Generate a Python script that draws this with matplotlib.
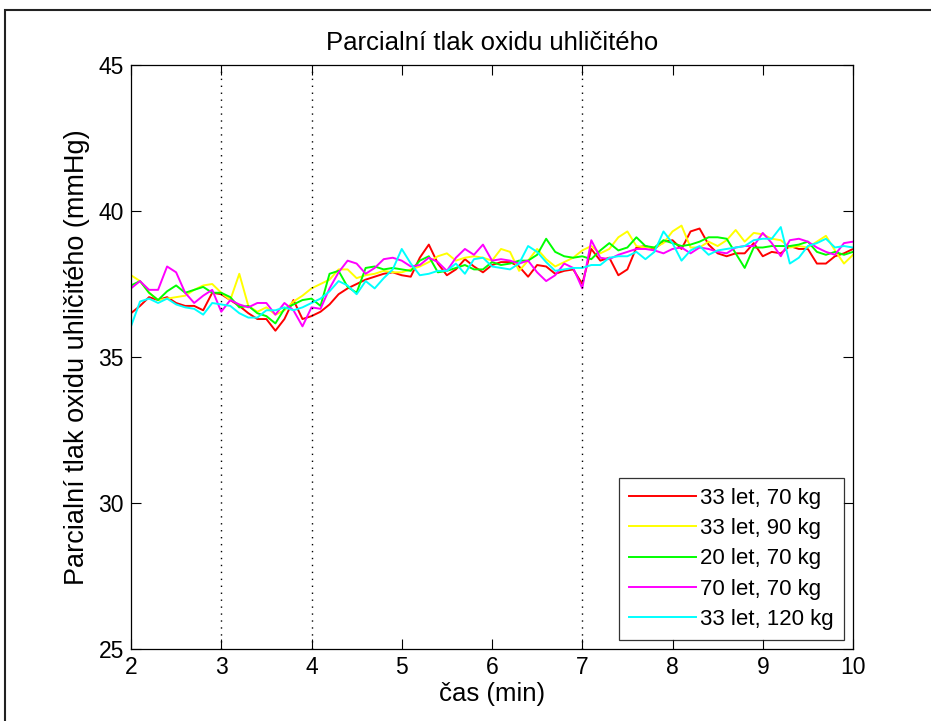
import numpy as np
import matplotlib
matplotlib.use("Agg")
import matplotlib.pyplot as plt
from matplotlib.patches import Rectangle

plt.rcParams['font.family'] = ['Liberation Sans', 'DejaVu Sans']

time = np.linspace(2, 10, 81)

red = [36.5, 36.75, 37.05, 36.95, 37.05, 36.85, 36.75, 36.75, 36.6, 37.2,
       37.15, 36.95, 36.75, 36.5, 36.3, 36.3, 35.9, 36.3, 36.95, 36.3,
       36.4, 36.55, 36.8, 37.15, 37.35, 37.5, 37.65, 37.75, 37.85, 37.9,
       37.8, 37.75, 38.4, 38.85, 38.2, 37.8, 38.0, 38.35, 38.1, 37.9,
       38.15, 38.25, 38.25, 38.1, 37.75, 38.15, 38.1, 37.85, 37.95, 38.0,
       37.5, 38.7, 38.3, 38.4, 37.8, 38.0, 38.75, 38.8, 38.7, 38.95,
       39.0, 38.7, 39.3, 39.4, 38.85, 38.55, 38.45, 38.55, 38.55, 38.9,
       38.45, 38.6, 38.55, 38.8, 38.7, 38.7, 38.2, 38.2, 38.45, 38.55,
       38.7]

yellow = [37.8, 37.6, 37.2, 36.95, 37.0, 37.05, 37.1, 37.3, 37.45, 37.5,
          37.2, 36.95, 37.85, 36.75, 36.55, 36.7, 36.45, 36.6, 36.9, 37.1,
          37.35, 37.5, 37.65, 38.0, 38.0, 37.7, 37.8, 37.85, 37.95, 37.9,
          37.9, 38.0, 38.1, 38.25, 38.45, 38.55, 38.3, 38.4, 38.45, 38.4,
          38.3, 38.7, 38.6, 37.95, 38.3, 38.7, 38.35, 38.1, 38.25, 38.4,
          38.65, 38.8, 38.55, 38.7, 39.1, 39.3, 38.8, 38.75, 38.75, 38.9,
          39.3, 39.5, 38.75, 38.75, 38.95, 38.8, 39.0, 39.35, 38.95, 39.25,
          39.2, 39.05, 39.0, 38.75, 38.8, 38.75, 38.95, 39.15, 38.65, 38.2,
          38.5]

green = [37.45, 37.6, 37.2, 36.95, 37.25, 37.45, 37.2, 37.3, 37.4, 37.2,
         37.2, 37.05, 36.7, 36.75, 36.5, 36.4, 36.15, 36.65, 36.8, 36.95,
         37.0, 36.75, 37.85, 37.95, 37.4, 37.2, 38.05, 38.1, 38.0, 38.05,
         38.0, 37.95, 38.3, 38.45, 37.9, 37.95, 38.05, 38.15, 38.0, 38.0,
         38.25, 38.15, 38.2, 38.3, 38.3, 38.5, 39.05, 38.6, 38.45, 38.4,
         38.45, 38.35, 38.65, 38.9, 38.65, 38.75, 39.1, 38.8, 38.75, 39.0,
         38.9, 38.8, 38.85, 38.95, 39.1, 39.1, 39.05, 38.55, 38.05, 38.75,
         38.75, 38.8, 38.8, 38.8, 38.85, 38.95, 38.6, 38.5, 38.6, 38.5,
         38.6]

magenta = [37.35, 37.6, 37.3, 37.3, 38.1, 37.9, 37.2, 36.85, 37.1, 37.3,
           36.55, 36.95, 36.8, 36.7, 36.85, 36.85, 36.45, 36.85, 36.6, 36.05,
           36.7, 36.65, 37.35, 37.9, 38.3, 38.2, 37.85, 38.05, 38.35, 38.4,
           38.3, 38.1, 38.15, 38.4, 38.25, 37.95, 38.4, 38.7, 38.5, 38.85,
           38.3, 38.35, 38.3, 38.2, 38.3, 37.9, 37.6, 37.8, 38.2, 38.05,
           37.35, 39.0, 38.4, 38.35, 38.5, 38.6, 38.7, 38.7, 38.65, 38.55,
           38.7, 38.75, 38.55, 38.75, 38.7, 38.6, 38.55, 38.75, 38.8, 38.8,
           39.25, 38.9, 38.45, 39.0, 39.05, 38.95, 38.75, 38.6, 38.5, 38.9,
           38.95]

cyan = [36.05, 36.9, 37.0, 36.85, 37.0, 36.8, 36.7, 36.65, 36.45, 36.85,
        36.8, 36.75, 36.5, 36.35, 36.35, 36.6, 36.6, 36.7, 36.6, 36.7,
        36.85, 37.0, 37.25, 37.6, 37.45, 37.15, 37.6, 37.35, 37.7, 38.0,
        38.7, 38.2, 37.8, 37.85, 37.95, 37.95, 38.2, 37.85, 38.35, 38.4,
        38.1, 38.05, 38.0, 38.2, 38.8, 38.6, 38.25, 37.95, 38.0, 38.05,
        38.05, 38.15, 38.15, 38.4, 38.45, 38.45, 38.6, 38.35, 38.6, 39.3,
        38.9, 38.3, 38.65, 38.8, 38.5, 38.65, 38.7, 38.75, 38.8, 39.0,
        39.05, 39.05, 39.45, 38.2, 38.4, 38.8, 38.9, 39.05, 38.75, 38.8,
        38.75]

labels = ['33 let, 70 kg', '33 let, 90 kg', '20 let, 70 kg',
          '70 let, 70 kg', '33 let, 120 kg']
series = [red, yellow, green, magenta, cyan]
colors = ['#ff0000', '#ffff00', '#00ff00', '#ff00ff', '#00ffff']
markers_x = [3, 4, 7]
xticks = [2, 3, 4, 5, 6, 7, 8, 9, 10]
yticks = [25, 30, 35, 40, 45]

W, H = 931, 721
fig = plt.figure(figsize=(W / 100, H / 100), dpi=100)
fig.patches.append(Rectangle((5 / W, -0.1), 1.2, 1 - 10 / H + 0.1,
                             transform=fig.transFigure, fill=False,
                             edgecolor='#222222', linewidth=1.5))
ax = fig.add_axes([131 / W, 1 - 649 / H, (853 - 131) / W, (649 - 65) / H])

for ys, c, lab in zip(series, colors, labels):
    ax.plot(time, ys, color=c, lw=1.4, label=lab)

for xv in markers_x:
    ax.axvline(xv, color='black', ls=(0, (1, 4)), lw=1.0)

ax.set_xlim(2, 10)
ax.set_ylim(25, 45)
ax.set_xticks(xticks)
ax.set_yticks(yticks)
ax.tick_params(direction='in', length=7, width=0.8, top=True, right=True,
               labelsize=16.5, pad=5)
for s in ax.spines.values():
    s.set_linewidth(0.9)

ax.set_title('Parcialní tlak oxidu uhličitého', fontsize=18.5, pad=11)
ax.set_xlabel('čas (min)', fontsize=18.5, labelpad=2)
ax.set_ylabel('Parcialní tlak oxidu uhličitého (mmHg)', fontsize=19.5, labelpad=6)

leg = ax.legend(loc='lower right', fontsize=16, frameon=True, fancybox=False,
                handlelength=3.0, borderaxespad=0.4, labelspacing=0.42,
                handletextpad=0.2, borderpad=0.45)
leg.get_frame().set_edgecolor('black')
leg.get_frame().set_linewidth(0.9)

fig.savefig('out.png', dpi=100)
